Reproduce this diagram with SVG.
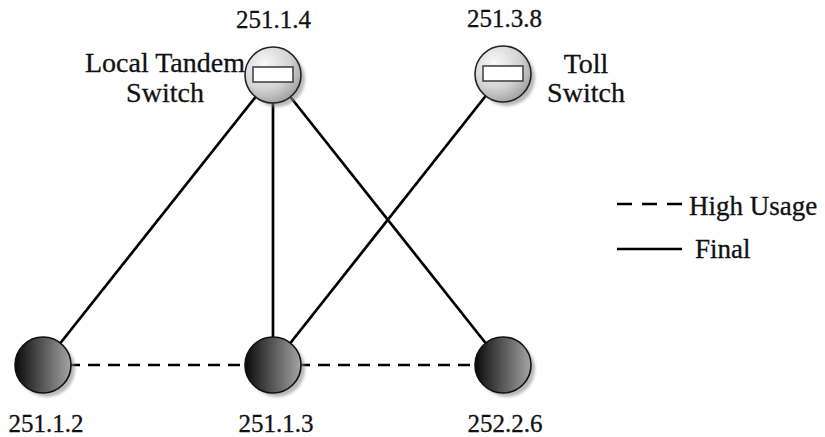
<svg xmlns="http://www.w3.org/2000/svg" width="825" height="437" viewBox="0 0 825 437">
<style>
  .lbl { font-family: "Liberation Serif", "DejaVu Serif", serif; font-size: 28px; fill: #111; text-anchor: middle; stroke: #111; stroke-width: 0.3; }
  .num { font-family: "Liberation Serif", "DejaVu Serif", serif; font-size: 25px; fill: #111; text-anchor: middle; stroke: #111; stroke-width: 0.3; }
  .leg { font-family: "Liberation Serif", "DejaVu Serif", serif; font-size: 27px; fill: #111; stroke: #111; stroke-width: 0.3; }
  .link { stroke: #000; stroke-width: 2.7; fill: none; }
  .dash { stroke: #000; stroke-width: 2.7; fill: none; stroke-dasharray: 12 8; }
  .shadow { fill: #8a8a8a; opacity: 0.6; filter: url(#blur); }
  .sw { fill: url(#light); stroke: #222; stroke-width: 1.6; }
  .ep { fill: url(#dark); stroke: #111; stroke-width: 1.6; }
  .bar { fill: #fff; stroke: #444; stroke-width: 1.6; }
</style>
<defs>
  <radialGradient id="light" cx="0.35" cy="0.3" r="0.75">
    <stop offset="0" stop-color="#f8f8f8"/>
    <stop offset="0.6" stop-color="#d4d4d4"/>
    <stop offset="1" stop-color="#a0a0a0"/>
  </radialGradient>
  <linearGradient id="dark" x1="0" y1="0" x2="1" y2="0">
    <stop offset="0" stop-color="#0a0a0a"/>
    <stop offset="1" stop-color="#a5a5a5"/>
  </linearGradient>
  <filter id="blur" x="-20%" y="-20%" width="140%" height="140%">
    <feGaussianBlur stdDeviation="1.5"/>
  </filter>
</defs>
<g id="connectors">
  <line class="link" x1="273" y1="75" x2="43" y2="365"/>
  <line class="link" x1="273" y1="75" x2="273" y2="365"/>
  <line class="link" x1="273" y1="75" x2="503" y2="365"/>
  <line class="link" x1="503" y1="74" x2="273" y2="365"/>
  <line class="dash" x1="68" y1="365" x2="248" y2="365"/>
  <line class="dash" x1="298" y1="365" x2="478" y2="365"/>
</g>
<g id="node-251.1.4">
  <circle class="shadow" cx="277" cy="79" r="28"/>
  <circle class="sw" cx="273" cy="75" r="28"/>
  <rect class="bar" x="253" y="67" width="40" height="15"/>
  <text class="num" x="273.5" y="28">251.1.4</text>
  <text class="lbl" x="165" y="72">Local Tandem</text>
  <text class="lbl" x="165" y="102">Switch</text>
</g>
<g id="node-251.3.8">
  <circle class="shadow" cx="507" cy="78" r="28"/>
  <circle class="sw" cx="503" cy="74" r="28"/>
  <rect class="bar" x="483" y="66" width="40" height="15"/>
  <text class="num" x="504.5" y="27">251.3.8</text>
  <text class="lbl" x="586" y="73">Toll</text>
  <text class="lbl" x="586" y="102">Switch</text>
</g>
<g id="node-251.1.2">
  <circle class="shadow" cx="47" cy="369" r="28"/>
  <circle class="ep" cx="43" cy="365" r="28"/>
  <text class="num" x="46" y="432">251.1.2</text>
</g>
<g id="node-251.1.3">
  <circle class="shadow" cx="277" cy="369" r="28"/>
  <circle class="ep" cx="273" cy="365" r="28"/>
  <text class="num" x="276" y="432">251.1.3</text>
</g>
<g id="node-252.2.6">
  <circle class="shadow" cx="507" cy="369" r="28"/>
  <circle class="ep" cx="503" cy="365" r="28"/>
  <text class="num" x="505" y="432">252.2.6</text>
</g>
<g id="legend">
  <line x1="617" y1="204" x2="683" y2="204" stroke="#000" stroke-width="2.7" stroke-dasharray="15 10"/>
  <text class="leg" x="689" y="215">High Usage</text>
  <line x1="617" y1="249" x2="682" y2="249" stroke="#000" stroke-width="2.7"/>
  <text class="leg" x="695" y="258">Final</text>
</g>
</svg>
